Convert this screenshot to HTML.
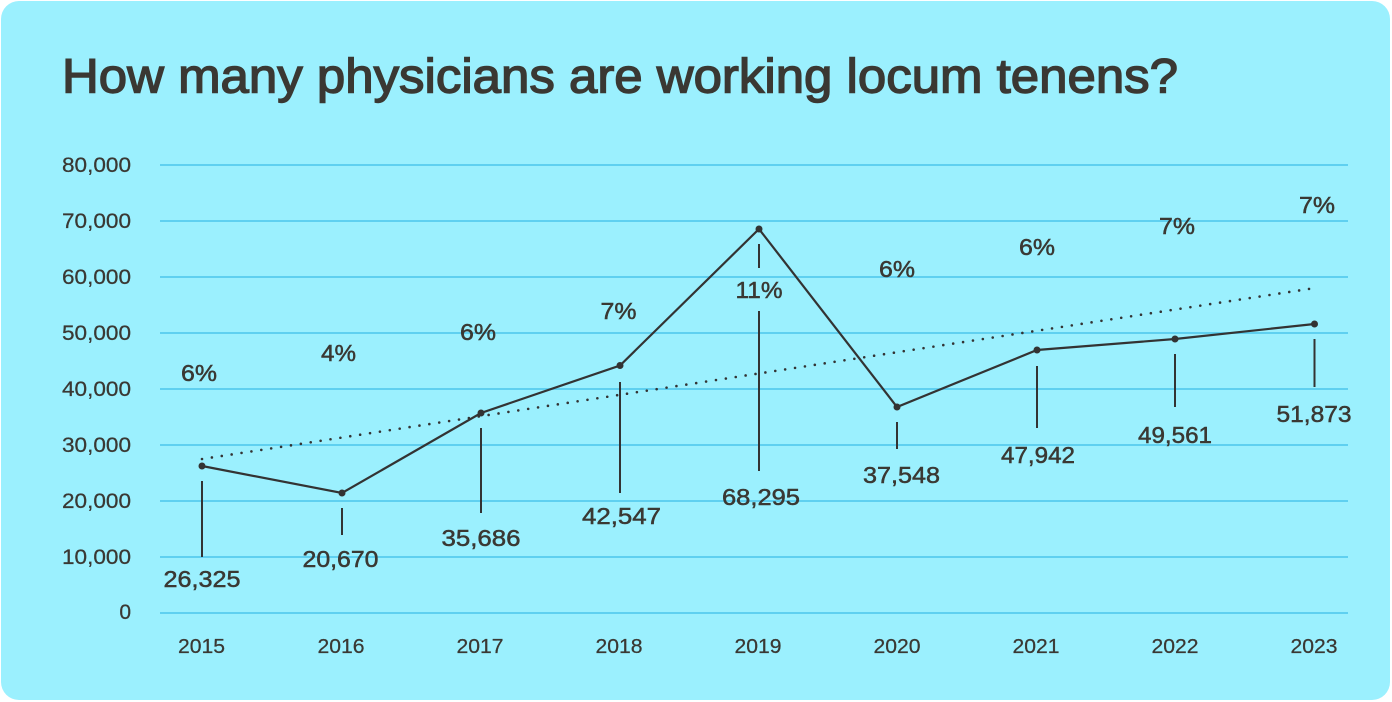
<!DOCTYPE html>
<html>
<head>
<meta charset="utf-8">
<style>
  html, body { margin:0; padding:0; background:#ffffff; }
  body { width:1392px; height:702px; overflow:hidden; }
  svg { display:block; }
  text { font-family: "Liberation Sans", "DejaVu Sans", sans-serif; fill:#3a3833; }
</style>
</head>
<body>
<svg width="1392" height="702" viewBox="0 0 1392 702" xmlns="http://www.w3.org/2000/svg">
  <rect x="1" y="1" width="1389" height="699" rx="18" ry="18" fill="#9bf0fe"/>

  <!-- Title -->
  <text x="62" y="92.5" font-size="48" textLength="1116" lengthAdjust="spacingAndGlyphs" stroke="#3a3833" stroke-width="1.4">How many physicians are working locum tenens?</text>

  <!-- Gridlines -->
  <g stroke="#5fd0f0" stroke-width="2">
    <line x1="160" y1="165" x2="1348" y2="165"/>
    <line x1="160" y1="221" x2="1348" y2="221"/>
    <line x1="160" y1="277" x2="1348" y2="277"/>
    <line x1="160" y1="333" x2="1348" y2="333"/>
    <line x1="160" y1="389" x2="1348" y2="389"/>
    <line x1="160" y1="445" x2="1348" y2="445"/>
    <line x1="160" y1="501" x2="1348" y2="501"/>
    <line x1="160" y1="557" x2="1348" y2="557"/>
    <line x1="160" y1="613" x2="1348" y2="613"/>
  </g>

  <!-- Y axis labels -->
  <g font-size="21" text-anchor="end" stroke="#3a3833" stroke-width="0.25">
    <text x="131" y="172" textLength="69" lengthAdjust="spacingAndGlyphs">80,000</text>
    <text x="131" y="228" textLength="69" lengthAdjust="spacingAndGlyphs">70,000</text>
    <text x="131" y="284" textLength="69" lengthAdjust="spacingAndGlyphs">60,000</text>
    <text x="131" y="340" textLength="69" lengthAdjust="spacingAndGlyphs">50,000</text>
    <text x="131" y="396" textLength="69" lengthAdjust="spacingAndGlyphs">40,000</text>
    <text x="131" y="452" textLength="69" lengthAdjust="spacingAndGlyphs">30,000</text>
    <text x="131" y="508" textLength="69" lengthAdjust="spacingAndGlyphs">20,000</text>
    <text x="131" y="564" textLength="69" lengthAdjust="spacingAndGlyphs">10,000</text>
    <text x="131" y="619">0</text>
  </g>

  <!-- X axis labels -->
  <g font-size="20" text-anchor="middle" stroke="#3a3833" stroke-width="0.25">
    <text x="201.5" y="653" textLength="47" lengthAdjust="spacingAndGlyphs">2015</text>
    <text x="341" y="653" textLength="47" lengthAdjust="spacingAndGlyphs">2016</text>
    <text x="480" y="653" textLength="47" lengthAdjust="spacingAndGlyphs">2017</text>
    <text x="619" y="653" textLength="47" lengthAdjust="spacingAndGlyphs">2018</text>
    <text x="758" y="653" textLength="47" lengthAdjust="spacingAndGlyphs">2019</text>
    <text x="897" y="653" textLength="47" lengthAdjust="spacingAndGlyphs">2020</text>
    <text x="1036" y="653" textLength="47" lengthAdjust="spacingAndGlyphs">2021</text>
    <text x="1175" y="653" textLength="47" lengthAdjust="spacingAndGlyphs">2022</text>
    <text x="1314" y="653" textLength="47" lengthAdjust="spacingAndGlyphs">2023</text>
  </g>

  <!-- Trend line (dotted) -->
  <line x1="202" y1="459" x2="1315" y2="288" stroke="#333333" stroke-width="2.6" stroke-linecap="round" stroke-dasharray="0 10"/>

  <!-- Drop lines -->
  <g stroke="#333333" stroke-width="2">
    <line x1="202" y1="481" x2="202" y2="557"/>
    <line x1="342" y1="508" x2="342" y2="535"/>
    <line x1="481" y1="428" x2="481" y2="513"/>
    <line x1="620" y1="382" x2="620" y2="493"/>
    <line x1="759" y1="244" x2="759" y2="268"/>
    <line x1="759" y1="311" x2="759" y2="471"/>
    <line x1="897" y1="422" x2="897" y2="449"/>
    <line x1="1037" y1="366" x2="1037" y2="428"/>
    <line x1="1175" y1="354" x2="1175" y2="407"/>
    <line x1="1314.5" y1="339" x2="1314.5" y2="387"/>
  </g>

  <!-- Data line -->
  <polyline points="202,466 342,493 481,413 620,365.5 759,229 897,407 1037,350 1175,339 1314.5,324"
            fill="none" stroke="#333333" stroke-width="2.2" stroke-linejoin="miter"/>
  <g fill="#333333">
    <circle cx="202" cy="466" r="3.5"/>
    <circle cx="342" cy="493" r="3.5"/>
    <circle cx="481" cy="413" r="3.5"/>
    <circle cx="620" cy="365.5" r="3.5"/>
    <circle cx="759" cy="229" r="3.5"/>
    <circle cx="897" cy="407" r="3.5"/>
    <circle cx="1037" cy="350" r="3.5"/>
    <circle cx="1175" cy="339" r="3.5"/>
    <circle cx="1314.5" cy="324" r="3.5"/>
  </g>

  <!-- Value labels -->
  <g font-size="23" text-anchor="middle" stroke="#3a3833" stroke-width="0.5">
    <text x="202" y="587" textLength="77" lengthAdjust="spacingAndGlyphs">26,325</text>
    <text x="340.5" y="567" textLength="76" lengthAdjust="spacingAndGlyphs">20,670</text>
    <text x="481" y="546" textLength="79" lengthAdjust="spacingAndGlyphs">35,686</text>
    <text x="621.5" y="524" textLength="79" lengthAdjust="spacingAndGlyphs">42,547</text>
    <text x="761" y="505" textLength="78" lengthAdjust="spacingAndGlyphs">68,295</text>
    <text x="901.5" y="483" textLength="77" lengthAdjust="spacingAndGlyphs">37,548</text>
    <text x="1038" y="463" textLength="74" lengthAdjust="spacingAndGlyphs">47,942</text>
    <text x="1175" y="443" textLength="74" lengthAdjust="spacingAndGlyphs">49,561</text>
    <text x="1314" y="422" textLength="75" lengthAdjust="spacingAndGlyphs">51,873</text>
  </g>

  <!-- Percent labels -->
  <g font-size="23" text-anchor="middle" stroke="#3a3833" stroke-width="0.5">
    <text x="199" y="381" textLength="36" lengthAdjust="spacingAndGlyphs">6%</text>
    <text x="338.5" y="361" textLength="35" lengthAdjust="spacingAndGlyphs">4%</text>
    <text x="478" y="340" textLength="36" lengthAdjust="spacingAndGlyphs">6%</text>
    <text x="618.5" y="319" textLength="36" lengthAdjust="spacingAndGlyphs">7%</text>
    <text x="759" y="298" textLength="47" lengthAdjust="spacingAndGlyphs">11%</text>
    <text x="897" y="277" textLength="36" lengthAdjust="spacingAndGlyphs">6%</text>
    <text x="1037" y="255" textLength="36" lengthAdjust="spacingAndGlyphs">6%</text>
    <text x="1177" y="234" textLength="36" lengthAdjust="spacingAndGlyphs">7%</text>
    <text x="1317" y="213" textLength="36" lengthAdjust="spacingAndGlyphs">7%</text>
  </g>
</svg>
</body>
</html>
